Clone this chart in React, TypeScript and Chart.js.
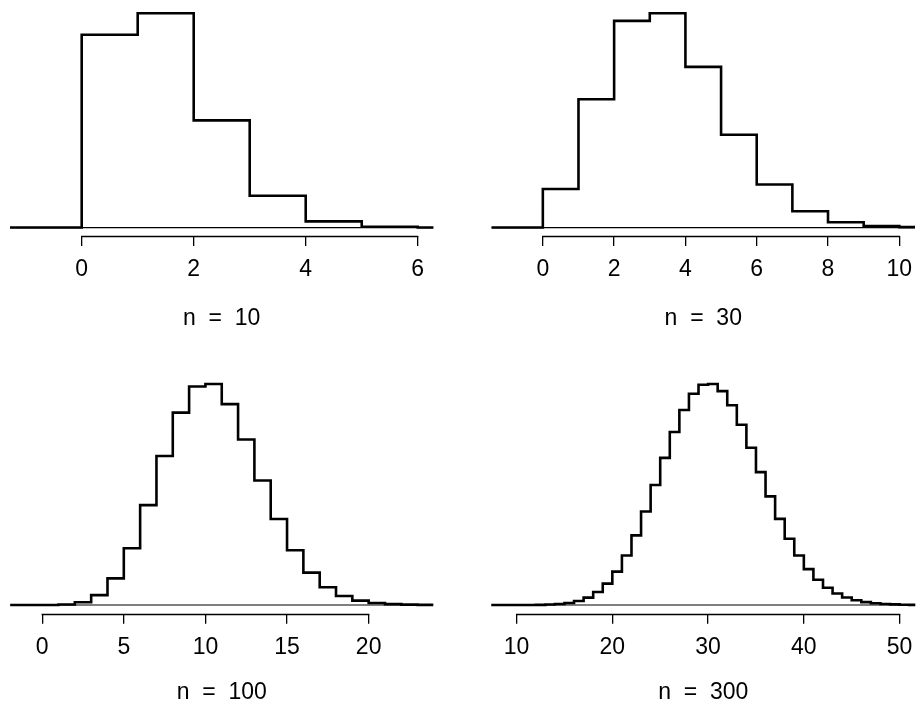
import React, { useEffect, useRef } from "react";
import { Chart, registerables } from "chart.js";

Chart.register(...registerables);

// ---- data (probabilities; index i <-> k = start + i) ----
const n10Start = -2;
const n10Probs = [0, 0, 0.3487, 0.3874, 0.1937, 0.0574, 0.0112, 0.0015, 0.0001, 0, 0];
const n10Ticks = [0, 2, 4, 6];
const n10Xlim = [-1, 6];

const n30Start = -2;
const n30Probs = [0, 0, 0.0424, 0.1413, 0.2277, 0.2361, 0.1771, 0.1023, 0.0474, 0.018, 0.0058, 0.0016, 0.0004, 0.0001, 0, 0];
const n30Ticks = [0, 2, 4, 6, 8, 10];
const n30Xlim = [-1, 10];

const n100Start = -2;
const n100Probs = [
  0, 0, 0.00003, 0.0003, 0.0016, 0.0059, 0.0159, 0.0339, 0.0596, 0.0889, 0.1148, 0.1304,
  0.1319, 0.1199, 0.0988, 0.0743, 0.0513, 0.0327, 0.0193, 0.0106, 0.0054, 0.0026, 0.0012,
  0.0005, 0.0002, 0.00007, 0.00003, 0.00001, 0, 0,
];
const n100Ticks = [0, 5, 10, 15, 20];
const n100Xlim = [-1, 23];

const n300Start = 5;
const n300Probs = [
  0, 0, 0, 0, 0.000002, 0.000007, 0.00002, 0.00006, 0.00015, 0.00033, 0.0007, 0.00138,
  0.00257, 0.00449, 0.00741, 0.01156, 0.01713, 0.02414, 0.03242, 0.04157, 0.05099, 0.05993,
  0.06757, 0.0732, 0.07629, 0.07657, 0.0741, 0.06921, 0.06245, 0.05449, 0.04602, 0.03764,
  0.02984, 0.02295, 0.01713, 0.01242, 0.00875, 0.006, 0.004, 0.00259, 0.00164, 0.00101,
  0.00061, 0.00035, 0.0002, 0.00011, 0.00006, 0.00003, 0, 0,
];
const n300Ticks = [10, 20, 30, 40, 50];
const n300Xlim = [9, 50];

const panelTitles = ["n  =  10", "n  =  30", "n  =  100", "n  =  300"];

// ---- layout (positions only) ----
const FONT = "'Liberation Sans', Arial, Helvetica, sans-serif";
const PANEL_W = 462;
const PANEL_H = 352;

type PanelCfg = {
  start: number;
  probs: number[];
  ticks: number[];
  xlim: number[];
  title: string;
  left: number;
  top: number;
  padL: number;
  padR: number;
  padT: number;
  axisH: number;
  titlePad: number;
};

const panels: PanelCfg[] = [
  { start: n10Start, probs: n10Probs, ticks: n10Ticks, xlim: n10Xlim, title: panelTitles[0],
    left: 0, top: 0, padL: 10, padR: 28.6, padT: 4.73, axisH: 115.9, titlePad: 19.5 },
  { start: n30Start, probs: n30Probs, ticks: n30Ticks, xlim: n30Xlim, title: panelTitles[1],
    left: 462, top: 0, padL: 29.5, padR: 9, padT: 4.73, axisH: 115.9, titlePad: 19.5 },
  { start: n100Start, probs: n100Probs, ticks: n100Ticks, xlim: n100Xlim, title: panelTitles[2],
    left: 0, top: 352, padL: 10.2, padR: 28.7, padT: 23.16, axisH: 90.16, titlePad: -2 },
  { start: n300Start, probs: n300Probs, ticks: n300Ticks, xlim: n300Xlim, title: panelTitles[3],
    left: 462, top: 352, padL: 29.3, padR: 8.7, padT: 23.16, axisH: 90.16, titlePad: -2 },
];

const axisLinePlugin = {
  id: "rAxisLine",
  afterDraw(chart: any) {
    const xs = chart.scales.x;
    const t = xs.ticks;
    if (!t || !t.length) return;
    const ctx = chart.ctx;
    const x1 = xs.getPixelForValue(t[0].value);
    const x2 = xs.getPixelForValue(t[t.length - 1].value);
    const y = Math.round(chart.chartArea.bottom) + 0.5;
    ctx.save();
    ctx.strokeStyle = "#000";
    ctx.lineWidth = 1.3;
    ctx.beginPath();
    ctx.moveTo(x1 - 0.6, y);
    ctx.lineTo(x2 + 0.6, y);
    ctx.stroke();
    ctx.restore();
  },
};

function Panel({ cfg }: { cfg: PanelCfg }) {
  const ref = useRef<HTMLCanvasElement | null>(null);
  useEffect(() => {
    if (!ref.current) return;
    const points = cfg.probs.map((p, i) => ({ x: cfg.start + i, y: p }));
    const M = Math.max(...cfg.probs);
    const span = cfg.xlim[1] - cfg.xlim[0];
    const xmin = cfg.xlim[0] - 0.04 * span;
    const xmax = cfg.xlim[1] + 0.04 * span;
    const chart = new Chart(ref.current, {
      type: "line",
      data: {
        datasets: [
          {
            data: points,
            stepped: "before",
            borderColor: "#000",
            borderWidth: 2.6,
            pointRadius: 0,
            fill: false,
            clip: 0,
            borderJoinStyle: "miter",
            borderCapStyle: "butt",
          } as any,
          {
            data: [
              { x: xmin, y: 0 },
              { x: xmax, y: 0 },
            ],
            borderColor: "#000",
            borderWidth: 1.2,
            pointRadius: 0,
            fill: false,
            clip: 0,
          } as any,
        ],
      },
      options: {
        animation: false,
        responsive: false,
        events: [],
        layout: { padding: { left: cfg.padL, right: cfg.padR, top: cfg.padT, bottom: 0 } },
        plugins: {
          legend: { display: false },
          tooltip: { enabled: false },
          title: { display: false },
        },
        scales: {
          x: {
            type: "linear",
            position: "bottom",
            min: xmin,
            max: xmax,
            bounds: "data",
            border: { display: false },
            grid: {
              display: true,
              drawOnChartArea: false,
              drawTicks: true,
              tickLength: 10,
              color: "#000",
              tickColor: "#000",
              lineWidth: 1.3,
            },
            ticks: {
              autoSkip: false,
              maxRotation: 0,
              minRotation: 0,
              padding: 10,
              color: "#000",
              font: { family: FONT, size: 23, lineHeight: 1.2 },
              callback: (v: any) => String(v),
            },
            title: {
              display: true,
              text: cfg.title,
              color: "#000",
              font: { family: FONT, size: 23, lineHeight: 1.2 },
              padding: { top: 0, bottom: cfg.titlePad },
            },
            afterBuildTicks: (s: any) => {
              s.ticks = cfg.ticks.map((v) => ({ value: v }));
            },
            afterFit: (s: any) => {
              s.height = cfg.axisH;
              s.paddingLeft = 0;
              s.paddingRight = 0;
            },
          } as any,
          y: {
            type: "linear",
            display: false,
            min: -0.04 * M,
            max: 1.04 * M,
          },
        },
      } as any,
      plugins: [axisLinePlugin],
    });
    return () => chart.destroy();
  }, [cfg]);

  return (
    <canvas
      ref={ref}
      width={PANEL_W}
      height={PANEL_H}
      style={{
        position: "absolute",
        left: cfg.left,
        top: cfg.top,
        width: PANEL_W,
        height: PANEL_H,
        display: "block",
      }}
    />
  );
}

export default function App() {
  return (
    <div
      style={{
        position: "absolute",
        left: 0,
        top: 0,
        width: 924,
        height: 704,
        background: "#fff",
        overflow: "hidden",
      }}
    >
      {panels.map((p, i) => (
        <Panel key={i} cfg={p} />
      ))}
    </div>
  );
}
